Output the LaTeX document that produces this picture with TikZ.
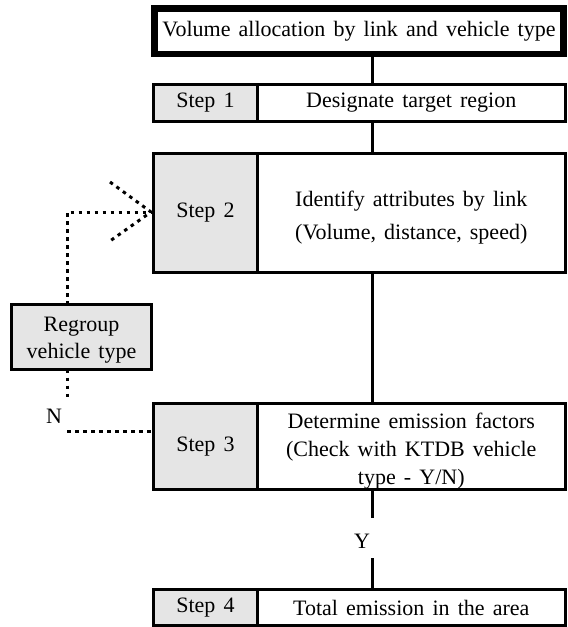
\documentclass[tikz,border=0pt]{standalone}
\usepackage{fontspec}
\setmainfont{Liberation Serif}
\newcommand{\wsp}{\spaceskip=0.37em plus 0.1em\relax}
\begin{document}
\begin{tikzpicture}[x=1pt,y=-1pt,
  every node/.style={font=\fontsize{22}{30}\selectfont\wsp, inner sep=0pt, outer sep=0pt, align=center},
  box/.style={draw, line width=3pt, anchor=north west},
  graycell/.style={box, fill=black!10},
  whitecell/.style={box, fill=white},
  dots/.style={line width=3pt, dash pattern=on 3.5pt off 4.5pt},
  link/.style={line width=3pt}]
\useasboundingbox (0,0) rectangle (568,627);
% top box
\node[draw, line width=6.5pt, minimum width=409pt, minimum height=45.5pt, anchor=north west, fill=white] (top) at (154.5,8.25) {Volume allocation by link and vehicle type};
% step 1
\node[graycell, minimum width=104pt, minimum height=37pt] (s1) at (153.5,84.5) {Step 1};
\node[whitecell, minimum width=307.5pt, minimum height=37pt] (t1) at (s1.north east) {Designate target region};
% step 2
\node[graycell, minimum width=104pt, minimum height=119pt] (s2) at (153.5,153.5) {Step 2};
\node[whitecell, minimum width=307.5pt, minimum height=119pt] (t2) at (s2.north east) {};
\node[yshift=-5pt, font=\fontsize{22}{33}\selectfont\wsp] (t2txt) at (t2.center) {Identify attributes by link\\(Volume, distance, speed)};
% step 3
\node[graycell, minimum width=104pt, minimum height=86pt] (s3) at (153.5,403.5) {Step 3};
\node[whitecell, minimum width=307.5pt, minimum height=86pt] (t3) at (s3.north east) {};
\node[yshift=-5pt, font=\fontsize{22}{28}\selectfont\wsp] (t3txt) at (t3.center) {Determine emission factors\\(Check with KTDB vehicle\\type - Y/N)};
% step 4
\node[graycell, minimum width=104pt, minimum height=36pt] (s4) at (153.5,589.5) {Step 4};
\node[whitecell, minimum width=307.5pt, minimum height=36pt] (t4) at (s4.north east) {Total emission in the area};
% regroup
\node[graycell, minimum width=140pt, minimum height=65pt] (rg) at (11.5,304.5) {};
\node[yshift=-3pt, font=\fontsize{22}{27}\selectfont\wsp] (rgtxt) at (rg.center) {Regroup\\vehicle type};
% labels
\node (y) at (362,541) {Y};
\node (n) at (54,416) {N};
% solid connectors
\coordinate (vx) at (372,0);
\draw[link] (top.south -| vx) -- (t1.north -| vx);
\draw[link] (t1.south -| vx) -- (t2.north -| vx);
\draw[link] (t2.south -| vx) -- (t3.north -| vx);
\coordinate (ya) at (372,518);
\coordinate (yb) at (372,558);
\draw[link] (t3.south -| vx) -- (ya);
\draw[link] (yb) -- (t4.north -| vx);
% dotted feedback
\coordinate (c1) at (67,212);
\coordinate (tip) at (151,212);
\coordinate (ah1) at (110,182);
\coordinate (ah2) at (110,241);
\draw[dots] (rg.north -| c1) -- (c1) -- (tip);
\draw[dots] (ah1) -- (tip) -- (ah2);
\coordinate (c2) at (67,397);
\coordinate (c3) at (67,431);
\draw[dots] (rg.south -| c1) -- (c2);
\draw[dots] (c3) -- (c3 -| s3.west);
\end{tikzpicture}
\end{document}
